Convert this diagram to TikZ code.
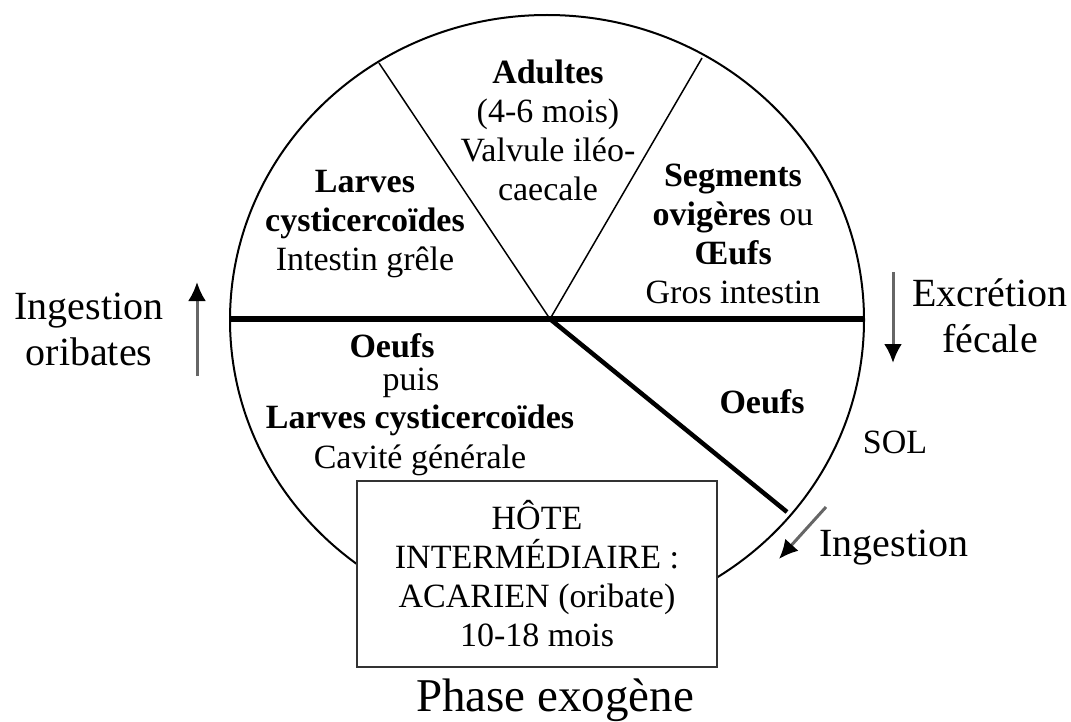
\documentclass[tikz,border=0pt]{standalone}
\usepackage{fontspec}
\setmainfont{Liberation Serif}
\usetikzlibrary{arrows.meta}
\begin{document}
\begin{tikzpicture}[x=1pt,y=-1pt]
\useasboundingbox (0,0) rectangle (1071,722);
\tikzstyle{every node}=[inner sep=0pt, align=center,
                        font=\fontsize{34}{39}\selectfont]
\tikzstyle{big}=[font=\fontsize{40}{46}\selectfont]
\tikzstyle{flow}=[draw=black!60, line width=3pt,
                  -{Latex[length=19pt,width=18pt,black]}]
\coordinate (c) at (550,319);
\coordinate (ul) at (379,63);
\coordinate (ur) at (702,58);
\coordinate (dr) at (787,512);
\coordinate (w) at (230,319);
\coordinate (e) at (864,319);
\draw[line width=2pt] (547,320) ellipse [x radius=317, y radius=305];
\draw[line width=1.5pt] (c) -- (ul);
\draw[line width=1.5pt] (c) -- (ur);
\draw[line width=6pt] (w) -- (e);
\draw[line width=4.5pt] (c) -- (dr);
\node (adult) at (548,130){\textbf{Adultes}\\(4-6 mois)\\Valvule iléo-\\caecale};
\node (larve) at (365,224){\textbf{Larves}\\\textbf{cysticercoïdes}\\Intestin grêle};
\node (segm) at (733,234){\textbf{Segments}\\\textbf{ovigères} ou\\\textbf{Œufs}\\Gros intestin};
\node[anchor=base] (oeuf1) at (392,357){\textbf{Oeufs}};
\node[anchor=base] (puis) at (411,390){puis};
\node[anchor=base] (larve2) at (420,428){\textbf{Larves cysticercoïdes}};
\node[anchor=base] (cavite) at (420,468){Cavité générale};
\node (oeuf2) at (762,402){\textbf{Oeufs}};
\node (sol) at (895,442){SOL};
\node[draw=black!80, line width=2.5pt, fill=white, minimum width=360pt,
      minimum height=186pt] (hote) at (537,574)
      {HÔTE\\INTERMÉDIAIRE :\\ACARIEN (oribate)\\10-18 mois};
\node[font=\fontsize{47}{52}\selectfont] (phase) at (555,700){Phase exogène};
\node[big] (ingor) at (89,329){Ingestion\\oribates};
\node[big] (excr) at (990,316){Excrétion\\fécale};
\node[big] (ing) at (894,548){Ingestion};
\coordinate (a1) at (197,376);
\coordinate (a2) at (197,282);
\coordinate (b1) at (893,272);
\coordinate (b2) at (893,363);
\coordinate (d1) at (826,507);
\coordinate (d2) at (779,559);
\draw[flow] (a1) -- (a2);
\draw[flow] (b1) -- (b2);
\draw[flow] (d1) -- (d2);
\end{tikzpicture}
\end{document}
